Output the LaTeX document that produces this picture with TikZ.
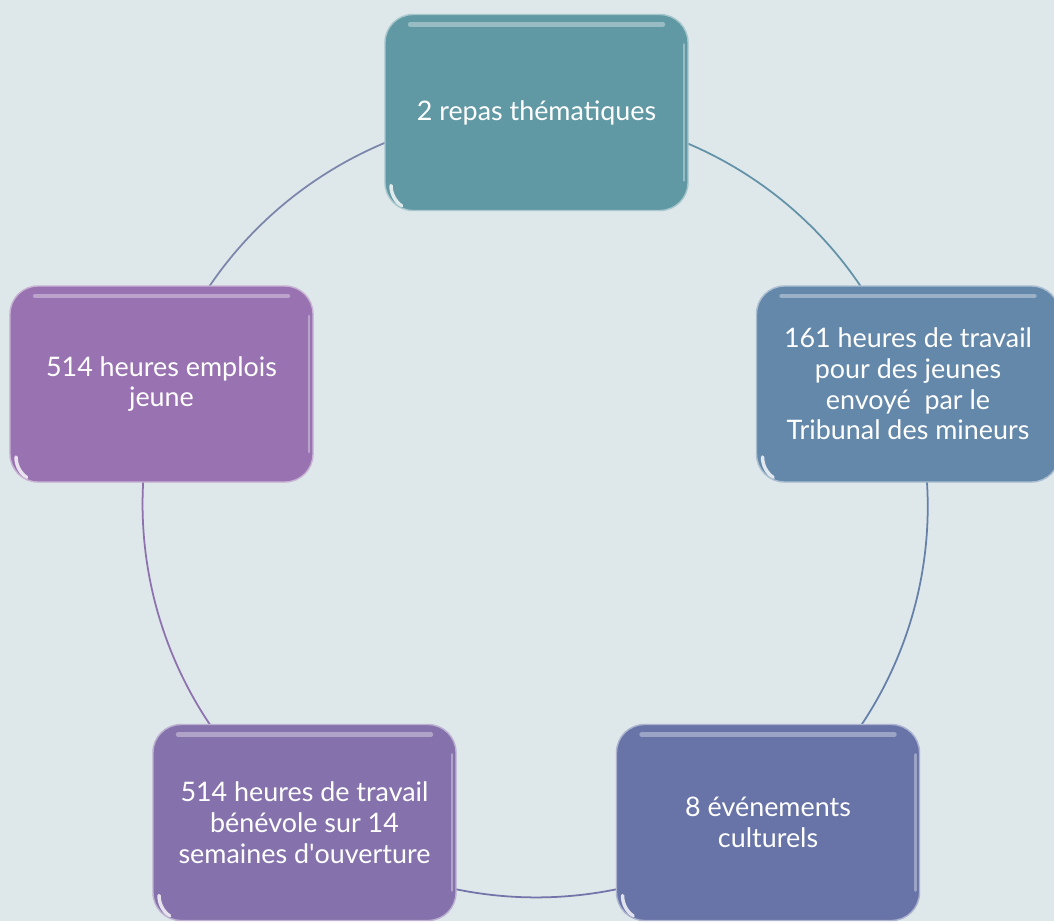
\documentclass[tikz,border=0pt]{standalone}
\usepackage{fontspec}
\setmainfont{Lato}
\usetikzlibrary{backgrounds}
\definecolor{bgpale}   {RGB}{222, 231, 234}
\definecolor{cycteal}  {RGB}{ 96, 153, 164}
\definecolor{cycsteel} {RGB}{100, 136, 170}
\definecolor{cycindigo}{RGB}{104, 116, 168}
\definecolor{cycviolet}{RGB}{133, 114, 172}
\definecolor{cycorchid}{RGB}{153, 115, 177}

\begin{document}
\begin{tikzpicture}[
  every node/.style={font=\fontsize{15.3}{17.5}\selectfont},
  cyclebox/.style={draw=#1!55!white,line width=0.8pt,fill=#1,text=white,
                   rounded corners=0.56cm,minimum width=6.06cm,
                   minimum height=3.92cm,align=center,
                   path picture={
                     \draw[white,opacity=0.35,line width=2.5pt,line cap=round]
                       ([shift={(0.5,-0.2)}]path picture bounding box.north west)
                       -- ([shift={(-0.5,-0.2)}]path picture bounding box.north east);
                     \draw[white,opacity=0.35,line width=1.5pt,line cap=round]
                       ([shift={(-0.08,-0.6)}]path picture bounding box.north east)
                       -- ([shift={(-0.08,0.6)}]path picture bounding box.south east);
                     \draw[white,opacity=0.8,line width=2pt,line cap=round]
                       ([shift={(0.12,0.5)}]path picture bounding box.south west)
                       arc[start angle=180,end angle=235,radius=0.5cm];
                   }},
  ring/.style={line width=1pt},
]

%% Page size and margins
\useasboundingbox (0,0) rectangle (21.08,-18.42);

%% The five boxes of the cycle
\node[cyclebox=cycteal]   (repas)    at (10.73,-2.25)  {2 repas thématiques};
\node[cyclebox=cycsteel]  (tribunal) at (18.16,-7.68)
  {161 heures de travail\\pour des jeunes\\envoyé~ par le\\Tribunal des mineurs};
\node[cyclebox=cycindigo] (culture)  at (15.36,-16.45) {8 événements\\culturels};
\node[cyclebox=cycviolet] (benevole) at (6.09,-16.45)
  {514 heures de travail\\bénévole sur 14\\semaines d\textquotesingle ouverture};
\node[cyclebox=cycorchid] (emplois)  at (3.23,-7.68)  {514 heures emplois\\jeune};

%% Background and the ring joining the boxes
\begin{scope}[on background layer]
  \fill[bgpale] (0,0) rectangle (21.08,-18.42);
  \draw[ring,cycteal!60!cycsteel]    (repas.center)    to[bend left=36,looseness=0.94] (tribunal.center);
  \draw[ring,cycsteel!60!cycindigo]  (tribunal.center) to[bend left=36,looseness=0.94] (culture.center);
  \draw[ring,cycindigo!60!cycviolet] (culture.center)  to[bend left=36,looseness=0.94] (benevole.center);
  \draw[ring,cycviolet!60!cycorchid] (benevole.center) to[bend left=36,looseness=0.94] (emplois.center);
  \draw[ring,cycorchid!50!cycteal]   (emplois.center)  to[bend left=36,looseness=0.94] (repas.center);
\end{scope}

\end{tikzpicture}
\end{document}
